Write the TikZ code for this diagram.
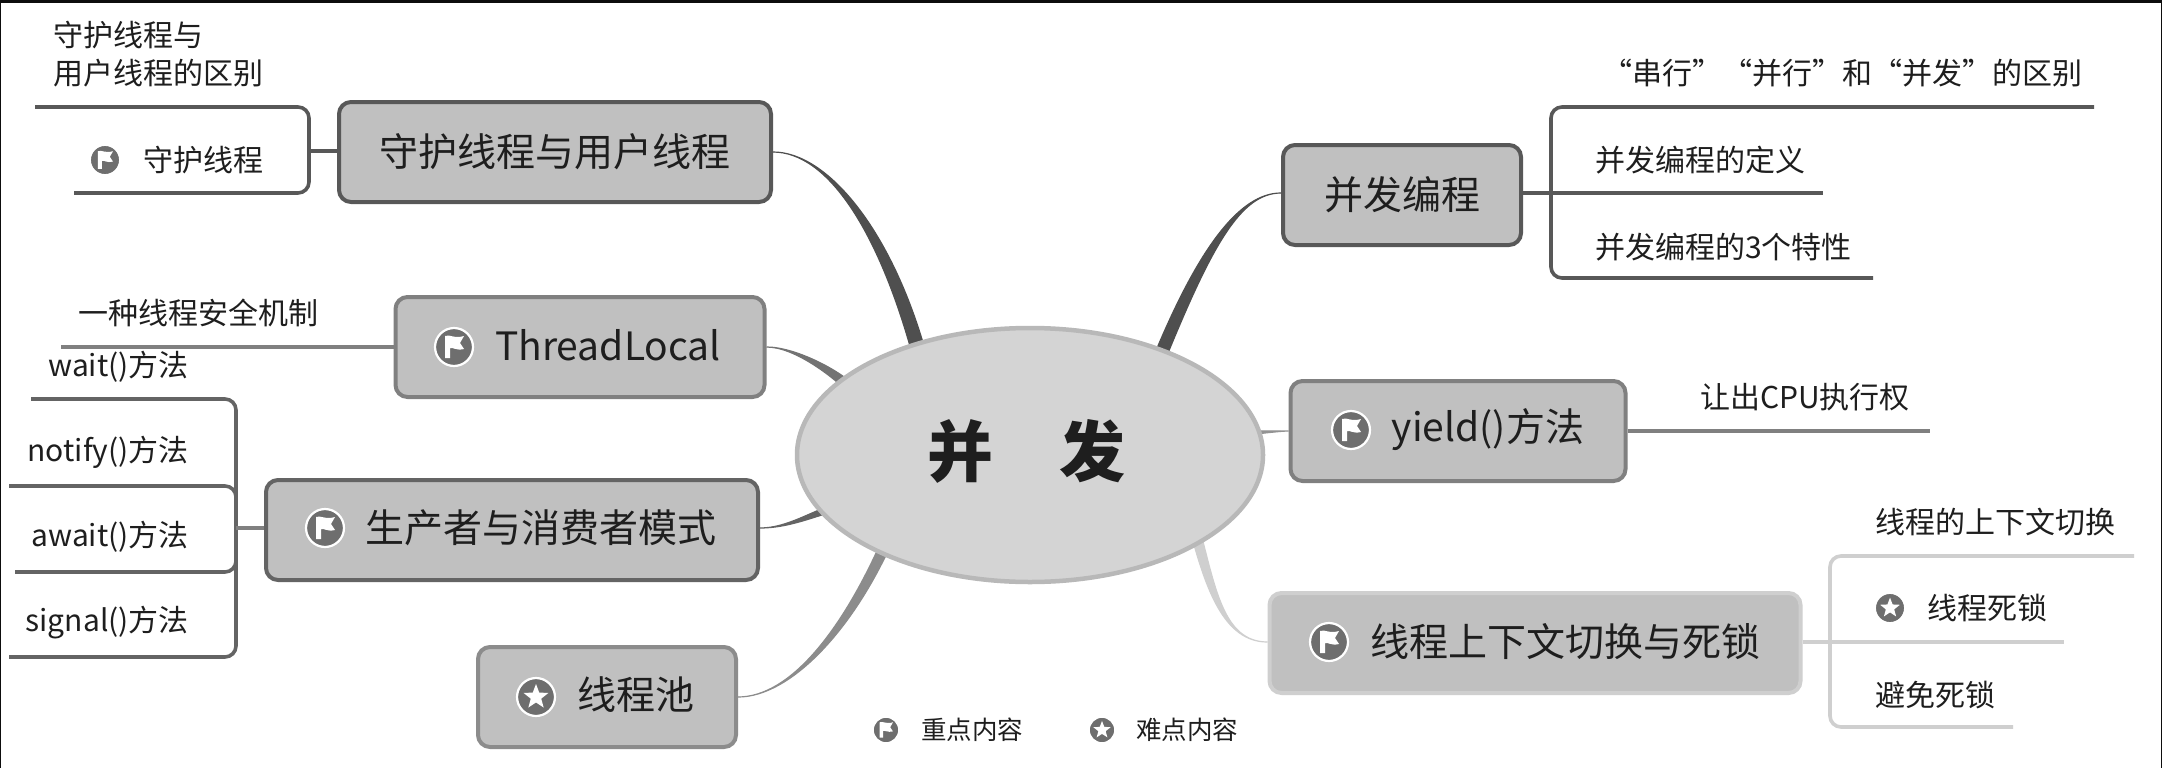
\documentclass[tikz,border=0pt]{standalone}
\usepackage{fontspec}
\setmainfont{Noto Sans CJK SC}
\usetikzlibrary{shapes.geometric,calc,backgrounds}
\definecolor{ringdark}{HTML}{585858}
\definecolor{ringmid}{HTML}{808080}
\definecolor{ringpool}{HTML}{8C8C8C}
\definecolor{ringprod}{HTML}{646464}
\definecolor{ringpale}{HTML}{CFCFCF}
\definecolor{boxfill}{HTML}{C0C0C0}
\definecolor{rootfill}{HTML}{D4D4D4}
\definecolor{rootline}{HTML}{B8B8B8}
\definecolor{inktext}{HTML}{1E1E1E}
\definecolor{icondisc}{HTML}{6E6E6E}
\newcommand{\fs}[1]{\fontsize{#1}{#1}\selectfont}
\newcommand{\taper}[6]{\filldraw[#1,line width=1.2]
  (#2) .. controls ($(#2)+(#4)$) and ($($(#3)!.1!(root)$)+(#5)+(#6)$) .. ($($(#3)!.1!(root)$)+(#6)$)
  -- ($($(#3)!.1!(root)$)-(#6)$) .. controls ($($(#3)!.1!(root)$)+(#5)-(#6)$) and ($(#2)+(#4)$) .. (#2) -- cycle;}
\tikzset{
  flagicon/.pic={
    \fill[icondisc] (0,0) circle (18);
    \draw[white,line width=2.2] (0,0) circle (19);
    \fill[white] (-9,11) -- (-9,-11) .. controls (-4,-13) and (0,-8) .. (10,-11) -- (6,-4) -- (10,2) .. controls (2,4) and (-1,0) .. (-4,1) -- (-4,11) -- cycle;
  },
  staricon/.pic={
    \fill[icondisc] (0,0) circle (18);
    \draw[white,line width=2.2] (0,0) circle (19);
    \fill[white] (-90:13) -- (-54:5.5) -- (-18:13) -- (18:5.5) -- (54:13) -- (90:5.5) -- (126:13) -- (162:5.5) -- (198:13) -- (234:5.5) -- cycle;
  }
}
\begin{document}
\begin{tikzpicture}[x=1pt,y=-1pt,
  every node/.style={text=inktext},
  topic/.style={rectangle, draw, line width=4, fill=boxfill, rounded corners=12, inner sep=0, minimum height=100, font=\fs{39}},
  leaf/.style={inner sep=0, anchor=west, font=\fs{30}},
  legend/.style={inner sep=0, anchor=west, font=\fs{25.5}},
  branch/.style={line width=3.6, rounded corners=11}]
\useasboundingbox (0,0) rectangle (2162,768);

\node (root) [ellipse, draw=rootline, line width=4.5, fill=rootfill, minimum width=466, minimum height=254, inner sep=0] at (1030,455) {};
\node (roottext) [inner sep=0, font=\fs{66}\bfseries] at (1026,451) {并\hspace{1em}发};

\node (guard) [topic, draw=ringdark, minimum width=432] at (555,152) {守护线程与用户线程};
\node (local) [topic, draw=ringmid, minimum width=369] at (580,347) {};
\node (localtext) [inner sep=0, font=\fs{39}] at (608,345) {ThreadLocal};
\node (prod) [topic, draw=ringprod, minimum width=492] at (512,530) {};
\node (prodtext) [inner sep=0, font=\fs{39}] at (541,528) {生产者与消费者模式};
\node (pool) [topic, draw=ringpool, minimum width=258] at (607,697) {};
\node (pooltext) [inner sep=0, font=\fs{39}] at (636,695) {线程池};
\node (prog) [topic, draw=ringdark, minimum width=238] at (1402,195) {并发编程};
\node (yield) [topic, draw=ringmid, minimum width=335] at (1458,431) {};
\node (yieldtext) [inner sep=0, font=\fs{39}] at (1488,430) {yield()方法};
\node (switch) [topic, draw=ringpale, minimum width=531] at (1535,643) {};
\node (switchtext) [inner sep=0, font=\fs{39}] at (1565,642) {线程上下文切换与死锁};

\node (diff) [leaf, align=left] at (53,54) {守护线程与\\[8pt]用户线程的区别};
\node (daemon) [leaf] at (143,160) {守护线程};
\node (safe) [leaf] at (78,313) {一种线程安全机制};
\node (wait) [leaf, anchor=east] at (189,367) {wait()方法};
\node (notify) [leaf, anchor=east] at (189,452) {notify()方法};
\node (await) [leaf, anchor=east] at (189,537) {await()方法};
\node (signal) [leaf, anchor=east] at (189,623) {signal()方法};
\node (modes) [leaf] at (1602,73) {“串行”“并行”和“并发”的区别};
\node (define) [leaf] at (1595,160) {并发编程的定义};
\node (traits) [leaf] at (1595,247) {并发编程的3个特性};
\node (giveup) [leaf] at (1700,397) {让出CPU执行权};
\node (ctx) [leaf] at (1875,522) {线程的上下文切换};
\node (dead) [leaf] at (1927,608) {线程死锁};
\node (avoid) [leaf] at (1875,695) {避免死锁};
\node (keytext) [legend] at (921,730) {重点内容};
\node (hardtext) [legend] at (1136,730) {难点内容};

\pic at (454,347) {flagicon};
\pic at (325,528) {flagicon};
\pic at (536,697) {staricon};
\pic at (1351,430) {flagicon};
\pic at (1329,642) {flagicon};
\pic[scale=.8] at (105,160) {flagicon};
\pic[scale=.8] at (1890,608) {staricon};
\pic[scale=.7] at (886,730) {flagicon};
\pic[scale=.7] at (1102,730) {staricon};

\coordinate (guardup) at (35,107);
\coordinate (guarddown) at (74,193);
\coordinate (guardfork) at (309,151);
\coordinate (safeend) at (61,347);
\coordinate (waitend) at (31,399);
\coordinate (notifyend) at (9,486);
\coordinate (awaitend) at (15,572);
\coordinate (signalend) at (9,657);
\coordinate (prodfork) at (236,528);
\coordinate (progup) at (2094,107);
\coordinate (progmid) at (1823,193);
\coordinate (progdown) at (1873,278);
\coordinate (progfork) at (1551,193);
\coordinate (yieldend) at (1930,431);
\coordinate (switchup) at (2134,556);
\coordinate (switchmid) at (2064,642);
\coordinate (switchdown) at (2013,727);
\coordinate (switchfork) at (1830,642);

\draw[branch, ringdark] (guardup) -| (guardfork) |- (guarddown);
\draw[branch, ringdark, line width=4.5] (guard.west |- guardfork) -- (guardfork);
\draw[branch, ringmid] (local.west) -- (safeend);
\draw[branch, ringprod] (waitend) -| (prodfork) |- (signalend);
\draw[branch, ringprod] (notifyend) -| (prodfork);
\draw[branch, ringprod] (awaitend) -| (prodfork);
\draw[branch, ringmid, line width=4.5] (prod.west |- prodfork) -- (prodfork);
\draw[branch, ringdark] (progup) -| (progfork) |- (progdown);
\draw[branch, ringdark] (prog.east |- progmid) -- (progmid);
\draw[branch, ringmid] (yield.east) -- (yieldend);
\draw[branch, ringpale] (switchup) -| (switchfork) |- (switchdown);
\draw[branch, ringpale] (switch.east |- switchmid) -- (switchmid);

\begin{pgfonlayer}{background}
\fill[white] (0,0) rectangle (2162,768);
\fill[black!95] (0,0) rectangle (2162,3);
\fill[black!95] (0,0) rectangle (1,768);
\fill[black!95] (2161,0) rectangle (2162,768);
\taper{ringdark!90!black}{guard.east |- guard.center}{root.138}{55,0}{-34,-124}{7,0}
\taper{ringmid!90!black}{local.east}{root.160}{28,0}{-18,-18}{3,-3.5}
\taper{ringprod}{prod.east |- prodfork}{root.195}{28,0}{-28,8}{0,3.5}
\taper{ringpool}{pool.east}{root.211}{52,0}{-40,90}{5.5,0}
\taper{ringdark!90!black}{prog.west |- progfork}{root.36}{-40,0}{48,-118}{6.5,0}
\taper{ringmid!85!white}{yield.west}{root.6}{-10,0}{10,0}{0,2.2}
\taper{ringpale}{switch.west |- switchfork}{root.336}{-44,0}{16,60}{5,0}
\end{pgfonlayer}
\end{tikzpicture}
\end{document}
